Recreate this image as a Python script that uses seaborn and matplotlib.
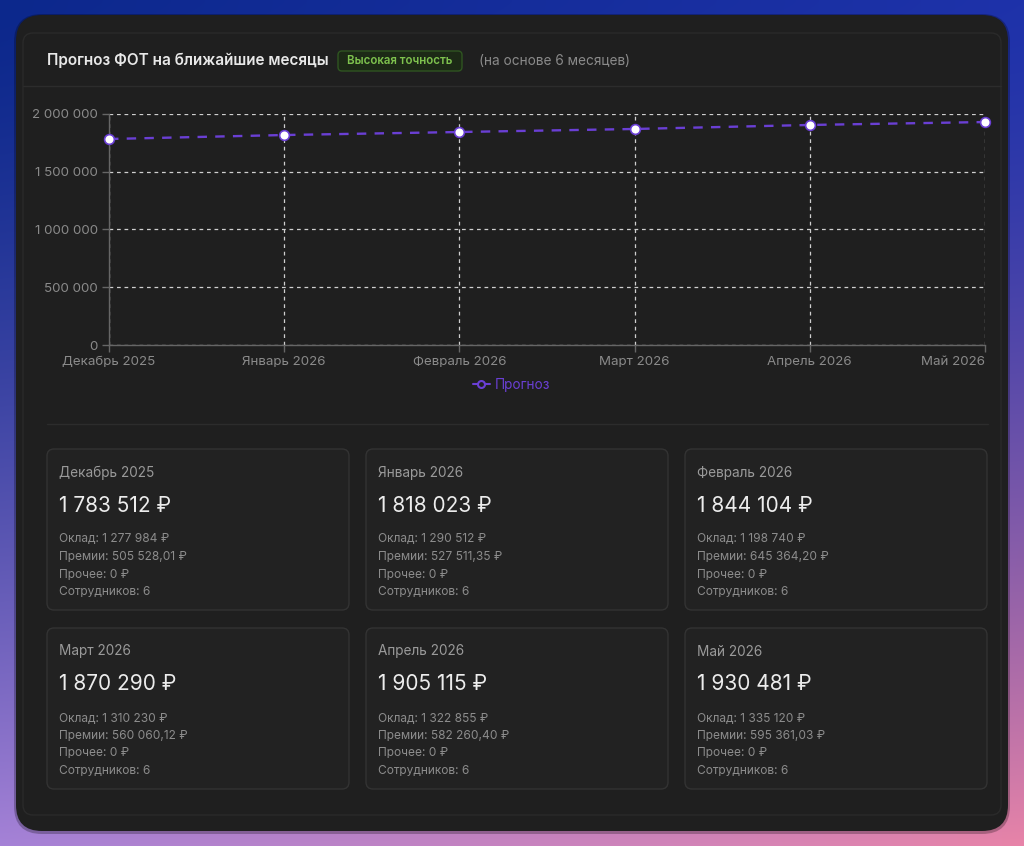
import numpy as np
import pandas as pd
import seaborn as sns
import matplotlib.pyplot as plt
from matplotlib.patches import FancyBboxPatch
from matplotlib.lines import Line2D

sns.set_theme(style="dark")
plt.rcParams['font.family'] = ['Inter', 'DejaVu Sans']

months = ['Декабрь 2025', 'Январь 2026', 'Февраль 2026', 'Март 2026', 'Апрель 2026', 'Май 2026']
forecast = [1783512.01, 1818023.35, 1844104.20, 1870290.12, 1905115.40, 1930481.03]
oklad = [1277984, 1290512, 1198740, 1310230, 1322855, 1335120]
prochee = [0, 0, 0, 0, 0, 0]
staff = [6, 6, 6, 6, 6, 6]
yticks = [0, 500000, 1000000, 1500000, 2000000]

purple = '#6a3fd4'
win_bg = '#1f1f1f'


def rub(v, dec=False):
    if dec:
        s = f"{v:,.2f}".replace(',', ' ').replace('.', ',')
    else:
        s = f"{round(v):,}".replace(',', ' ')
    return s + ' ₽'


fig = plt.figure(figsize=(10.24, 8.46), dpi=100)

# background gradient + window, drawn in pixel coords
bg = fig.add_axes([0, 0, 1, 1])
bg.set_xlim(0, 1024)
bg.set_ylim(846, 0)
bg.axis('off')
tl, tr = np.array([12, 40, 140]), np.array([30, 50, 170])
bl, br = np.array([165, 130, 215]), np.array([232, 132, 168])
xx = np.linspace(0, 1, 1024)[None, :, None]
yy = (np.linspace(0, 1, 846)[:, None, None]) ** 1.5
top = tl * (1 - xx) + tr * xx
bot = bl * (1 - xx) + br * xx
img = (top * (1 - yy) + bot * yy) / 255
bg.imshow(img, extent=(0, 1024, 846, 0), aspect='auto', zorder=0)

bg.add_patch(FancyBboxPatch((14, 14), 996, 820, boxstyle='round,pad=0,rounding_size=28',
                            fc='#000000', ec='none', alpha=0.25, zorder=1))
bg.add_patch(FancyBboxPatch((16, 15), 992, 816, boxstyle='round,pad=0,rounding_size=26',
                            fc=win_bg, ec='none', zorder=2))
bg.add_patch(FancyBboxPatch((23, 33), 978, 782, boxstyle='round,pad=0,rounding_size=10',
                            fc='none', ec='#2a2a2a', lw=1, zorder=3))
bg.plot([23, 1001], [86, 86], color='#2c2c2c', lw=1, zorder=3)
bg.plot([47, 988], [424, 424], color='#2c2c2c', lw=1, zorder=3)

# header
bg.text(47, 60, 'Прогноз ФОТ на ближайшие месяцы', color='#e8e8e8', fontsize=11.0,
        fontweight='semibold', va='center', zorder=4)
bg.add_patch(FancyBboxPatch((338, 51), 124, 20, boxstyle='round,pad=0,rounding_size=4',
                            fc='#1c2916', ec='#2f5521', lw=1, zorder=4))
bg.text(400, 61.5, 'Высокая точность', color='#7ec24e', fontsize=8.3, fontweight='semibold',
        ha='center', va='center', zorder=5)
bg.text(479, 61, '(на основе 6 месяцев)', color='#8a8a8a', fontsize=9.8, va='center', zorder=4)

# cards
for i, m in enumerate(months):
    x0 = 47 + (i % 3) * 319
    y0 = 449 + (i // 3) * 179
    bg.add_patch(FancyBboxPatch((x0, y0), 302, 161, boxstyle='round,pad=0,rounding_size=7',
                                fc='#222222', ec='#333333', lw=1, zorder=3))
    premii = forecast[i] - oklad[i] - prochee[i]
    bg.text(x0 + 12, y0 + 23.5, m, color='#9a9a9a', fontsize=9.8, va='center', zorder=4)
    bg.text(x0 + 12, y0 + 56.5, rub(forecast[i]), color='#ececec', fontsize=15, va='center', zorder=4)
    rows = ['Оклад: ' + rub(oklad[i]), 'Премии: ' + rub(premii, True),
            'Прочее: ' + rub(prochee[i]), f'Сотрудников: {staff[i]}']
    for k, r in enumerate(rows):
        bg.text(x0 + 12, y0 + 90.5 + k * 17.5, r, color='#8c8c8c', fontsize=8.6, va='center', zorder=4)

# chart
df = pd.DataFrame({'pos': range(len(months)), 'value': forecast})
ax = fig.add_axes([109 / 1024, 1 - 345 / 846, 876 / 1024, 231 / 846])
ax.set_facecolor('none')
sns.lineplot(data=df, x='pos', y='value', ax=ax, color=purple, linewidth=1.7,
             marker='o', markersize=7, markerfacecolor='white', markeredgecolor=purple,
             markeredgewidth=1.2, zorder=5, clip_on=False)
ax.lines[0].set_linestyle((0, (4, 3.5)))
ax.set_xlim(0, len(months) - 1)
ax.set_ylim(0, yticks[-1])
ax.set_xticks(range(len(months)), months)
ax.set_yticks(yticks, [f"{v:,}".replace(',', ' ') for v in yticks])
ax.get_xticklabels()[-1].set_horizontalalignment('right')
ax.set_xlabel('')
ax.set_ylabel('')
ax.set_axisbelow(True)
ax.grid(True, color='#cfcfcf', linestyle=(0, (3, 3)), linewidth=0.9)
for s in ['top', 'right']:
    ax.spines[s].set_visible(False)
for s in ['left', 'bottom']:
    ax.spines[s].set_color('#666666')
    ax.spines[s].set_linewidth(1)
ax.tick_params(axis='both', colors='#666666', length=5, width=1, labelcolor='#8a8a8a',
               labelsize=9.6, pad=3, bottom=True, left=True)

handle = Line2D([], [], color=purple, lw=1.5, marker='o', markersize=5,
                markerfacecolor=win_bg, markeredgecolor=purple, markeredgewidth=1.5)
ax.legend([handle], ['Прогноз'], loc='center', bbox_to_anchor=(0.46, -0.173), frameon=False,
          labelcolor=purple, fontsize=9.8, handlelength=1.2, handletextpad=0.4)

fig.savefig('out.png', dpi=100)
